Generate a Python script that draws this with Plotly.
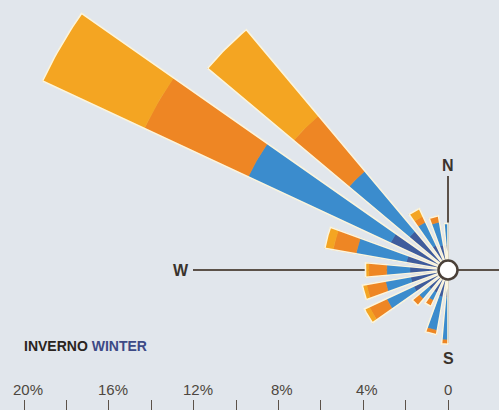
import numpy as np
import plotly.graph_objects as go

# ---- data (percent frequency of winter winds, west half of the rose) ----
directions = [0, 345, 330, 315, 300, 285, 270, 255, 240, 225, 210, 195, 180]
navy_class = [1.2, 1.2, 1.3, 2.4, 3.0, 2.0, 1.8, 1.8, 1.8, 1.2, 1.2, 1.3, 1.3]
blue_class = [1.0, 1.1, 1.2, 3.7, 7.4, 2.4, 1.1, 1.2, 1.4, 0.6, 0.4, 1.6, 2.0]
dark_orange_class = [0, 0.3, 0.3, 3.4, 5.4, 1.1, 0.85, 0.9, 0.9, 0.4, 0.3, 0.2, 0.2]
light_orange_class = [0, 0, 0.4, 5.3, 5.3, 0.4, 0.15, 0.2, 0.25, 0, 0, 0, 0]

scale_values = [-20, -16, -12, -8, -4, 0]
scale_labels = ["20%", "16%", "12%", "8%", "4%", "0"]
minor_ticks = list(range(-20, 1, 2))
compass_labels = ["N", "W", "S"]
title_main = "INVERNO"
title_en = "WINTER"

# ---- styling ----
CLASS_COLORS = ["#3f5c9c", "#3b8ccd", "#ee8624", "#f4a522"]
BG = "#e1e6ec"
INK = "#3a332d"
HALF_WIDTH = 5.0  # degrees on each side of a direction

PX_PER_UNIT = 21.2
CX, CY = 448, 270
W, H = 499, 410
x_range = [-CX / PX_PER_UNIT, (W - CX) / PX_PER_UNIT]
y_range = [-(H - CY) / PX_PER_UNIT, CY / PX_PER_UNIT]


def wedge(r0, r1, a0, a1, n=16):
    angs = np.radians(np.linspace(a0, a1, n))
    xs = list(r1 * np.sin(angs))
    ys = list(r1 * np.cos(angs))
    if r0 > 0:
        xs += list(r0 * np.sin(angs[::-1]))
        ys += list(r0 * np.cos(angs[::-1]))
    else:
        xs.append(0.0)
        ys.append(0.0)
    xs.append(xs[0])
    ys.append(ys[0])
    return xs, ys


def span(d):
    a0, a1 = d - HALF_WIDTH, d + HALF_WIDTH
    if d == 0:
        a0, a1 = 360 - HALF_WIDTH, 360
    elif d == 180:
        a0, a1 = 180, 180 + HALF_WIDTH
    return a0, a1


classes = [navy_class, blue_class, dark_orange_class, light_orange_class]
fig = go.Figure()

cum = np.zeros(len(directions))
for cls, col in zip(classes, CLASS_COLORS):
    xs_all, ys_all = [], []
    for i, d in enumerate(directions):
        v = cls[i]
        if v <= 0:
            continue
        a0, a1 = span(d)
        xs, ys = wedge(cum[i], cum[i] + v, a0, a1)
        xs_all += xs + [None]
        ys_all += ys + [None]
    cum = cum + np.array(cls)
    fig.add_trace(go.Scatter(x=xs_all, y=ys_all, mode="lines", fill="toself",
                             fillcolor=col, line=dict(color=col, width=0.6),
                             hoverinfo="skip", showlegend=False))

# outlines of each complete bar
ox, oy = [], []
for i, d in enumerate(directions):
    a0, a1 = span(d)
    xs, ys = wedge(0, cum[i], a0, a1)
    ox += xs + [None]
    oy += ys + [None]
fig.add_trace(go.Scatter(x=ox, y=oy, mode="lines",
                         line=dict(color="#fbf5df", width=1.6),
                         hoverinfo="skip", showlegend=False))

u = 1 / PX_PER_UNIT
shapes = [
    # horizontal axis line (W - E)
    dict(type="line", xref="x", yref="y", x0=-(CX - 193) * u, x1=(W - CX + 5) * u,
         y0=0, y1=0, line=dict(color="#5b5149", width=2), layer="below"),
    # vertical axis line (N - S)
    dict(type="line", xref="x", yref="y", x0=0, x1=0,
         y0=(CY - 176) * u, y1=-(343 - CY) * u,
         line=dict(color="#5b5149", width=2), layer="below"),
    # centre circle
    dict(type="circle", xref="x", yref="y", x0=-9.5 * u, x1=9.5 * u,
         y0=-9.5 * u, y1=9.5 * u, fillcolor="white",
         line=dict(color="#4a4038", width=2.5), layer="above"),
]

annotations = []
compass_pos = [(0, (CY - 165) * u), (-(CX - 181) * u, 0), (0, -(358 - CY) * u)]
for lab, (x, y) in zip(compass_labels, compass_pos):
    annotations.append(dict(x=x, y=y, xref="x", yref="y", text=f"<b>{lab}</b>",
                            showarrow=False, font=dict(size=16, color=INK,
                                                       family="Liberation Sans")))

for v, lab in zip(scale_values, scale_labels):
    annotations.append(dict(x=v, y=-(389 - CY) * u, xref="x", yref="y", text=lab,
                            showarrow=False, xshift=0 if v == 0 else 4,
                            font=dict(size=15, color="#4d4640",
                                      family="Liberation Sans")))

annotations.append(dict(x=22 / W, y=1 - 345.5 / H, xref="paper", yref="paper",
                        xanchor="left", yanchor="middle", showarrow=False,
                        text=f"<b>{title_main} <span style='color:#3d4a86'>{title_en}</span></b>",
                        font=dict(size=14, color="#2a2420", family="Liberation Sans")))

fig.update_layout(
    width=W, height=H, margin=dict(l=0, r=0, t=0, b=0),
    paper_bgcolor=BG, plot_bgcolor=BG,
    xaxis=dict(range=x_range, showgrid=False, zeroline=False, showline=False,
               tickvals=minor_ticks, ticks="inside", ticklen=10, tickwidth=1.3,
               tickcolor="#5b5149", showticklabels=False, fixedrange=True),
    yaxis=dict(range=y_range, showgrid=False, zeroline=False, showline=False,
               showticklabels=False, ticks="", fixedrange=True),
    shapes=shapes, annotations=annotations, showlegend=False,
)

fig.write_html(
    "out.html",
    config={"displayModeBar": False},
    post_script="document.body.style.margin='0';document.body.style.background='%s';" % BG,
)
